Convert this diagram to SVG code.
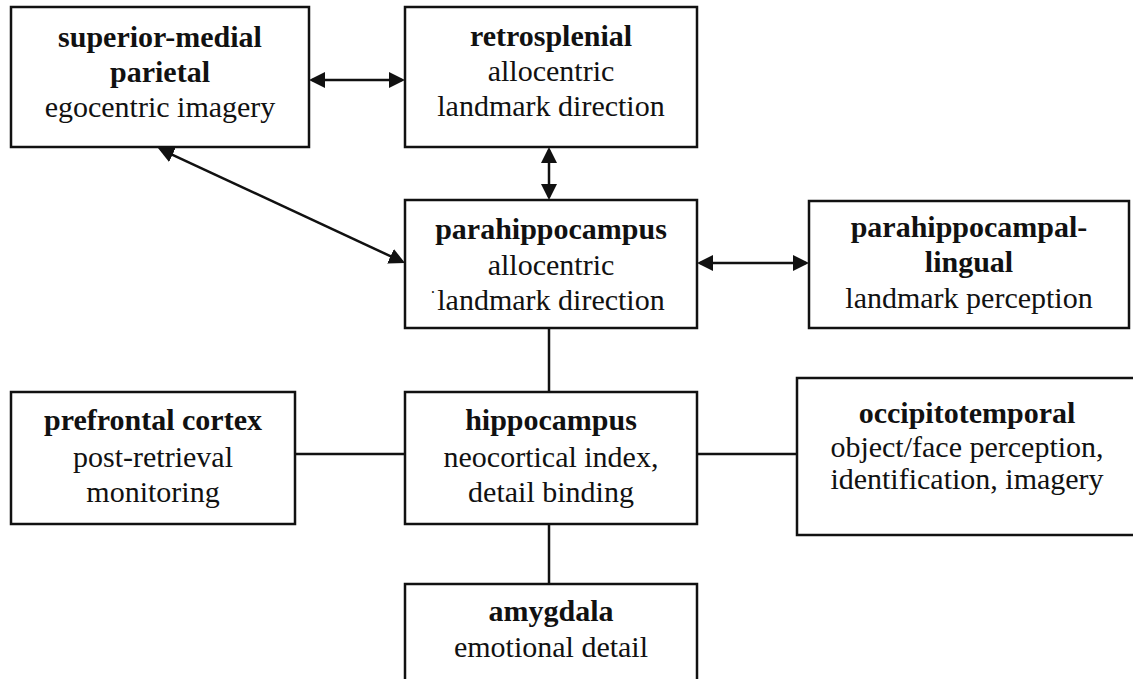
<svg xmlns="http://www.w3.org/2000/svg" width="1133" height="679" viewBox="0 0 1133 679">
<style>
  .box { fill: #ffffff; stroke: #111111; stroke-width: 2.5; }
  .t { font-family: "Liberation Serif", "Times New Roman", serif; font-size: 30px; fill: #111111; text-anchor: middle; }
  .b { font-weight: bold; }
  .conn { stroke: #111111; stroke-width: 2.5; fill: none; }
  .arr { marker-start: url(#ah); marker-end: url(#ah); }
</style>
<defs>
  <marker id="ah" markerUnits="userSpaceOnUse" markerWidth="18" markerHeight="16" refX="13" refY="8" orient="auto-start-reverse">
    <path d="M0,0 L16,8 L0,16 z" fill="#111111"/>
  </marker>
</defs>
<rect width="1133" height="679" fill="#ffffff"/>

<g id="connectors">
  <line class="conn arr" x1="312" y1="80" x2="402" y2="80"/>
  <line class="conn arr" x1="549" y1="150" x2="549" y2="197"/>
  <line class="conn arr" x1="700" y1="263" x2="806" y2="263"/>
  <line class="conn arr" x1="160.7" y1="149.3" x2="402.3" y2="261.7"/>
  <line class="conn" x1="549" y1="328" x2="549" y2="392"/>
  <line class="conn" x1="549" y1="524" x2="549" y2="584"/>
  <line class="conn" x1="295" y1="454" x2="405" y2="454"/>
  <line class="conn" x1="697" y1="454" x2="797" y2="454"/>
</g>

<g id="superior-medial-parietal">
  <rect class="box" x="11" y="7" width="298" height="140"/>
  <text class="t b" x="160" y="47">superior-medial</text>
  <text class="t b" x="160" y="82">parietal</text>
  <text class="t" x="160" y="117">egocentric imagery</text>
</g>

<g id="retrosplenial">
  <rect class="box" x="405" y="7" width="292" height="140"/>
  <text class="t b" x="551" y="46">retrosplenial</text>
  <text class="t" x="551" y="81">allocentric</text>
  <text class="t" x="551" y="116">landmark direction</text>
</g>

<g id="parahippocampus">
  <rect class="box" x="405" y="200" width="292" height="128"/>
  <text class="t b" x="551" y="239">parahippocampus</text>
  <text class="t" x="551" y="275">allocentric</text>
  <text class="t" x="551" y="310">landmark direction</text>
  <text class="t" x="433" y="298" style="font-size:16px">·</text>
</g>

<g id="parahippocampal-lingual">
  <rect class="box" x="809" y="201" width="320" height="127"/>
  <text class="t b" x="969" y="237">parahippocampal-</text>
  <text class="t b" x="969" y="272">lingual</text>
  <text class="t" x="969" y="308">landmark perception</text>
</g>

<g id="prefrontal-cortex">
  <rect class="box" x="11" y="392" width="284" height="132"/>
  <text class="t b" x="153" y="430">prefrontal cortex</text>
  <text class="t" x="153" y="467">post-retrieval</text>
  <text class="t" x="153" y="502">monitoring</text>
</g>

<g id="hippocampus">
  <rect class="box" x="405" y="392" width="292" height="132"/>
  <text class="t b" x="551" y="430">hippocampus</text>
  <text class="t" x="551" y="467">neocortical index,</text>
  <text class="t" x="551" y="502">detail binding</text>
</g>

<g id="occipitotemporal">
  <rect class="box" x="797" y="378" width="346" height="157"/>
  <text class="t b" x="967" y="423">occipitotemporal</text>
  <text class="t" x="967" y="457">object/face perception,</text>
  <text class="t" x="967" y="489">identification, imagery</text>
</g>

<g id="amygdala">
  <rect class="box" x="405" y="584" width="292" height="110"/>
  <text class="t b" x="551" y="621">amygdala</text>
  <text class="t" x="551" y="657">emotional detail</text>
</g>
</svg>
